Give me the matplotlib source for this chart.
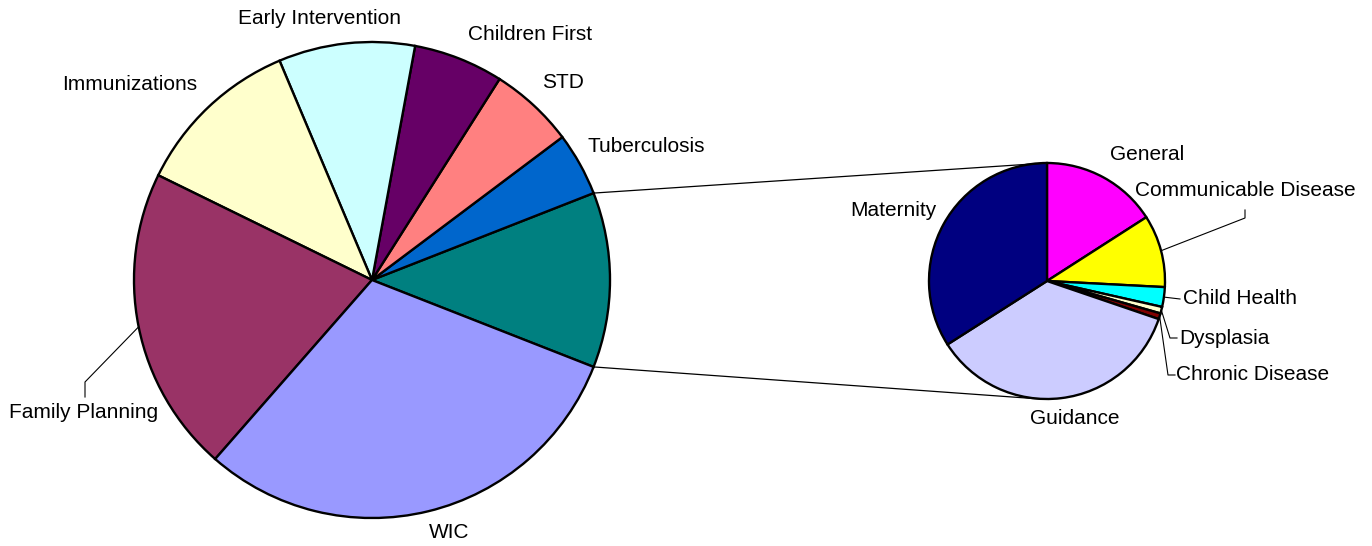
import numpy as np
import matplotlib.pyplot as plt

plt.rcParams['font.family'] = ['Liberation Sans', 'DejaVu Sans']

# main pie, counterclockwise starting with the "other" slice
main_labels = ['', 'Tuberculosis', 'STD', 'Children First', 'Early Intervention',
               'Immunizations', 'Family Planning', 'WIC']
main_values = [11.9, 4.3, 5.75, 6.1, 9.25, 11.4, 20.8, 30.5]
main_colors = ['#008080', '#0066CC', '#FF8080', '#660066', '#CCFFFF',
               '#FFFFCC', '#993366', '#9999FF']

# secondary pie, clockwise from the top
sub_labels = ['General', 'Communicable Disease', 'Child Health', 'Dysplasia',
              'Chronic Disease', 'Guidance', 'Maternity']
sub_values = [15.9, 9.9, 2.7, 0.9, 0.8, 35.7, 34.0]
sub_colors = ['#FF00FF', '#FFFF00', '#00FFFF', '#FFFFCC', '#800000',
              '#CCCCFF', '#000080']

W, H = 1372, 546
fig = plt.figure(figsize=(W / 100, H / 100), dpi=100)
ax = fig.add_axes([0, 0, 1, 1])
ax.set_aspect('equal')


def px(x, y):
    # image pixel -> data coords
    return x, H - y


c1 = px(372, 280)
r1 = 238
c2 = px(1047, 281)
r2 = 118

other_angle = main_values[0] / sum(main_values) * 360
wedges1, _ = ax.pie(main_values, colors=main_colors, center=c1, radius=r1,
                    startangle=-other_angle / 2, counterclock=True,
                    wedgeprops=dict(edgecolor='black', linewidth=1.7),
                    frame=True)
wedges2, _ = ax.pie(sub_values, colors=sub_colors, center=c2, radius=r2,
                    startangle=90, counterclock=False,
                    wedgeprops=dict(edgecolor='black', linewidth=1.7),
                    frame=True)
ax.set_xlim(0, W)
ax.set_ylim(0, H)
ax.axis('off')

# connector lines between the two pies
t1 = np.radians(wedges1[0].theta1)
t2 = np.radians(wedges1[0].theta2)
ax.plot([c1[0] + r1 * np.cos(t2), c2[0]], [c1[1] + r1 * np.sin(t2), c2[1] + r2],
        color='black', lw=0.9)
ax.plot([c1[0] + r1 * np.cos(t1), c2[0] - 7], [c1[1] + r1 * np.sin(t1), c2[1] - r2],
        color='black', lw=0.9)


def edge_point(w, c, r):
    a = np.radians((w.theta1 + w.theta2) / 2)
    return c[0] + r * np.cos(a), c[1] + r * np.sin(a)


fs = 15
# main pie labels (centre positions in pixels)
main_pos = {
    'Tuberculosis': (646, 147), 'STD': (563, 82), 'Children First': (530, 35),
    'Early Intervention': (320, 19), 'Immunizations': (130, 85),
    'Family Planning': (84, 413), 'WIC': (449, 532),
}
for lab in main_labels:
    if lab:
        x, y = px(*main_pos[lab])
        ax.text(x, y, lab, fontsize=fs, ha='center', va='center')

# Family Planning leader
fp = wedges1[main_labels.index('Family Planning')]
ax0 = edge_point(fp, c1, r1)
ax.plot([ax0[0], 85, 85], [ax0[1], H - 382, H - 397], color='black', lw=0.8)

# secondary pie labels
ax.text(*px(1147, 155), 'General', fontsize=fs, ha='center', va='center')
ax.text(*px(1245, 190), 'Communicable Disease', fontsize=fs, ha='center', va='center')
ax.text(*px(1183, 299), 'Child Health', fontsize=fs, ha='left', va='center')
ax.text(*px(1179, 338), 'Dysplasia', fontsize=fs, ha='left', va='center')
ax.text(*px(1176, 375), 'Chronic Disease', fontsize=fs, ha='left', va='center')
ax.text(*px(1075, 418), 'Guidance', fontsize=fs, ha='center', va='center')
ax.text(*px(893, 211), 'Maternity', fontsize=fs, ha='center', va='center')

leaders = {
    'Communicable Disease': [(1245, 218), (1245, 210)],
    'Child Health': [(1180, 299)],
    'Dysplasia': [(1170, 338), (1177, 338)],
    'Chronic Disease': [(1168, 375), (1175, 375)],
}
for lab, pts in leaders.items():
    w = wedges2[sub_labels.index(lab)]
    p0 = edge_point(w, c2, r2)
    xs = [p0[0]] + [p[0] for p in pts]
    ys = [p0[1]] + [H - p[1] for p in pts]
    ax.plot(xs, ys, color='black', lw=0.8)

fig.savefig('out.png', dpi=100, facecolor='white')
